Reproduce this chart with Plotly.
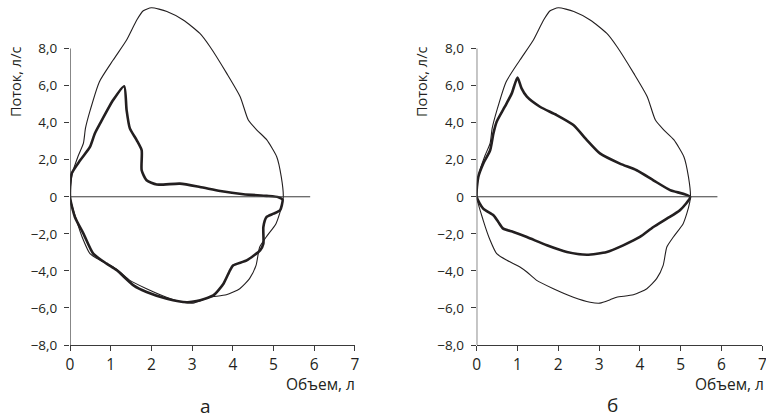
import plotly.graph_objects as go

# ---- Data (volume, l ; flow, l/s) ----
# Normal (predicted) loop - thin line, same in both panels
norm_exp_vol = [0, 0.05, 0.2, 0.33, 0.38, 0.5, 0.72, 1.06, 1.39, 1.64, 1.8, 2.0, 2.38, 2.78, 3.19, 3.44, 3.85, 4.18, 4.38, 4.59, 4.83, 5.08, 5.19, 5.24]
norm_exp_flow = [0, 1.2, 2.2, 2.9, 3.7, 4.7, 6.2, 7.38, 8.46, 9.54, 10.04, 10.2, 10.0, 9.54, 8.82, 8.1, 6.66, 5.4, 4.14, 3.6, 3.08, 2.15, 1.07, 0]
norm_insp_vol = [5.22, 5.15, 5.06, 4.82, 4.66, 4.57, 4.41, 4.17, 3.84, 3.43, 3.27, 3.02, 2.78, 2.37, 1.88, 1.47, 1.23, 1.06, 0.74, 0.49, 0.33, 0.16, 0]
norm_insp_flow = [-0.3, -0.9, -1.45, -2.17, -2.71, -3.7, -4.42, -4.96, -5.29, -5.42, -5.56, -5.74, -5.69, -5.42, -4.96, -4.51, -4.06, -3.79, -3.43, -3.07, -2.35, -1.27, 0]

# Panel "а" - patient loop (thick line)
a_exp_vol = [0, 0.04, 0.25, 0.49, 0.61, 0.74, 1.06, 1.33, 1.39, 1.47, 1.64, 1.76, 1.76, 1.88, 2.13, 2.7, 3.19, 3.69, 4.26, 4.83, 5.12, 5.22]
a_exp_flow = [0, 1.25, 1.97, 2.69, 3.42, 3.96, 5.22, 5.97, 4.68, 3.69, 3.05, 2.51, 1.43, 0.89, 0.66, 0.71, 0.53, 0.31, 0.14, 0.05, -0.02, -0.15]
a_insp_vol = [5.16, 5.0, 4.83, 4.75, 4.75, 4.67, 4.34, 4.01, 3.93, 3.77, 3.52, 3.11, 2.87, 2.38, 1.88, 1.56, 1.15, 0.9, 0.57, 0.33, 0.12, 0]
a_insp_flow = [-0.73, -0.91, -1.09, -1.63, -2.53, -2.89, -3.43, -3.7, -3.97, -4.69, -5.32, -5.63, -5.69, -5.5, -5.14, -4.78, -3.97, -3.61, -3.07, -1.99, -1.09, 0]

# Panel "б" - patient loop (thick line)
b_exp_vol = [0, 0.04, 0.16, 0.33, 0.41, 0.49, 0.69, 0.86, 1.0, 1.1, 1.23, 1.55, 1.96, 2.37, 2.7, 3.02, 3.51, 3.92, 4.33, 4.74, 5.23]
b_exp_flow = [0, 1.07, 1.79, 2.51, 3.42, 4.05, 4.86, 5.58, 6.44, 5.85, 5.4, 4.86, 4.41, 3.87, 3.06, 2.34, 1.79, 1.43, 0.89, 0.36, 0]
b_insp_vol = [4.98, 4.66, 4.33, 4.0, 3.59, 3.19, 2.7, 2.21, 1.72, 1.23, 0.9, 0.65, 0.53, 0.41, 0.16, 0]
b_insp_flow = [-0.73, -1.18, -1.63, -2.17, -2.62, -2.98, -3.13, -2.98, -2.62, -2.17, -1.9, -1.72, -1.36, -1.0, -0.64, 0]

x_ticks = [0, 1, 2, 3, 4, 5, 6, 7]
y_ticks = [-8, -6, -4, -2, 0, 2, 4, 6, 8]
y_ticktext = ["\u22128,0", "\u22126,0", "\u22124,0", "\u22122,0", "0", "2,0", "4,0", "6,0", "8,0"]
panel_labels = ["а", "б"]
y_title = "Поток, л/с"
x_title = "Объем, л"

FONT = "Open Sans"
INK = "#231f20"
AX = "#3a3a3a"

fig = go.Figure()

def add_loop(vx, vy, ex, ey, xa, ya, width):
    fig.add_trace(go.Scatter(
        x=vx + ex, y=vy + ey, mode="lines", xaxis=xa, yaxis=ya,
        line=dict(color=INK, width=width, shape="spline", smoothing=0.6),
        hoverinfo="skip", showlegend=False))

add_loop(norm_exp_vol, norm_exp_flow, norm_insp_vol, norm_insp_flow, "x", "y", 1.1)
add_loop(a_exp_vol, a_exp_flow, a_insp_vol, a_insp_flow, "x", "y", 2.6)
add_loop(norm_exp_vol, norm_exp_flow, norm_insp_vol, norm_insp_flow, "x2", "y2", 1.1)
add_loop(b_exp_vol, b_exp_flow, b_insp_vol, b_insp_flow, "x2", "y2", 2.6)

xcommon = dict(range=[0, 7], tickvals=x_ticks, ticks="outside", ticklen=5, tickwidth=1,
               tickcolor=AX, showline=True, linecolor=AX, linewidth=1.2, automargin=False,
               ticklabeloverflow="allow",
               showgrid=False, zeroline=False, tickfont=dict(family=FONT, size=15.5, color=INK))
ycommon = dict(range=[-8, 10.62], tickvals=y_ticks, ticktext=y_ticktext, ticks="outside",
               ticklen=5, tickwidth=1, tickcolor=AX, showline=False, showgrid=False,
               zeroline=False, ticklabelstandoff=4, automargin=False,
               tickfont=dict(family=FONT, size=13.5, color=INK), domain=[0.1766, 1])

fig.update_layout(
    width=766, height=419, margin=dict(l=0, r=0, t=0, b=0, autoexpand=False),
    paper_bgcolor="white", plot_bgcolor="white", showlegend=False,
    xaxis=dict(domain=[0.0914, 0.4634], anchor="y", **xcommon),
    yaxis=dict(anchor="x", **ycommon),
    xaxis2=dict(domain=[0.6223, 0.9952], anchor="y2", **xcommon),
    yaxis2=dict(anchor="x2", **ycommon),
)

for xr, yr in (("x", "y"), ("x2", "y2")):
    fig.add_shape(type="line", xref=xr, yref=yr, x0=0, x1=0, y0=-8, y1=8,
                  line=dict(color=AX, width=1.2))
    fig.add_shape(type="line", xref=xr, yref=yr, x0=0, x1=5.9, y0=0, y1=0,
                  line=dict(color=AX, width=1))

W, H = 766, 419
def ann(text, px, py, size, xanchor="center", angle=0):
    fig.add_annotation(text=text, xref="paper", yref="paper", x=px / W, y=1 - py / H,
                       xanchor=xanchor, yanchor="middle", showarrow=False, textangle=angle,
                       font=dict(family=FONT, size=size, color=INK))

ann(y_title, 15, 82, 14.5, angle=-90)
ann(y_title, 421, 82, 14.5, angle=-90)
ann(x_title, 357, 384, 15.5, xanchor="right")
ann(x_title, 766, 384, 15.5, xanchor="right")
ann(panel_labels[0], 205.7, 406, 19)
ann(panel_labels[1], 612, 405, 19)

fig.write_html("out.html", config={"displayModeBar": False},
               post_script="document.body.style.margin='0';document.body.style.overflow='hidden';")
